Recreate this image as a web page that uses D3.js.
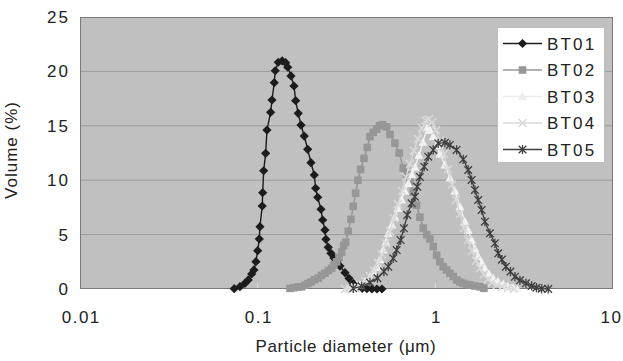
<!DOCTYPE html>
<html>
<head>
<meta charset="utf-8">
<script src="https://cdn.jsdelivr.net/npm/d3@7"></script>
<style>
  html, body { margin: 0; padding: 0; background: #fff; }
  svg { display: block; }
  text { font-family: "Liberation Sans", Arial, Helvetica, sans-serif; fill: #222; }
</style>
</head>
<body>
<svg id="chart" width="623" height="361"></svg>
<script>
// Particle size distributions (diameter in µm, volume in %)
const bt01Size = [0.0738,0.0795,0.0848,0.0885,0.0925,0.0953,0.0978,0.100,0.1021,0.1030,0.1061,0.1067,0.1081,0.1109,0.1128,0.1183,0.1204,0.1240,0.1256,0.1306,0.1375,0.1437,0.1476,0.1540,0.1601,0.1636,0.1692,0.1753,0.1829,0.1912,0.1995,0.2082,0.2120,0.2177,0.2271,0.2322,0.2392,0.2423,0.2496,0.2585,0.2688,0.2794,0.2905,0.3100,0.3265,0.3451,0.3683,0.3878,0.4122,0.4398,0.4692,0.5006];
const bt01Vol  = [0.03,0.21,0.52,0.83,1.38,1.75,2.51,3.52,4.60,5.73,7.63,8.85,10.87,12.47,14.61,16.24,17.37,18.96,20.06,20.84,20.96,20.80,20.38,19.58,18.66,17.31,16.15,15.07,14.06,12.84,11.61,10.48,9.26,8.43,7.33,6.34,5.42,4.57,3.83,3.28,2.85,2.48,2.11,1.50,0.98,0.52,0.21,0.06,0.03,0,0,0];

const bt02Size = [0.1520,0.1601,0.1686,0.1769,0.1846,0.1919,0.1995,0.2088,0.2193,0.2286,0.2392,0.2503,0.2609,0.2688,0.2783,0.2868,0.2970,0.3048,0.3128,0.3235,0.3350,0.3451,0.3560,0.3668,0.3799,0.3965,0.4138,0.4286,0.4473,0.4674,0.4847,0.5039,0.5320,0.5553,0.5925,0.6264,0.6597,0.6894,0.7196,0.7510,0.7848,0.8191,0.8549,0.8934,0.9324,0.9732,1.0170,1.0614,1.1078,1.1577,1.2083,1.2611,1.3179,1.3754,1.4355,1.5002,1.5657,1.6705,1.7823,1.8771];
const bt02Vol  = [0.06,0.12,0.18,0.21,0.35,0.5,0.65,0.85,1.0,1.25,1.45,1.7,1.9,2.2,2.5,2.9,3.4,4.0,4.3,5.3,6.4,7.6,8.8,10.0,11.0,12.0,13.0,14.0,14.4,14.7,15.0,15.1,14.9,14.2,13.4,12.5,11.1,10.5,9.9,8.9,7.7,6.6,5.6,5.0,4.6,3.9,3.1,2.5,2.05,1.75,1.44,1.15,0.83,0.65,0.52,0.42,0.37,0.28,0.2,0.06];

const bt03Size = [0.3181,0.3350,0.3528,0.3764,0.4017,0.4286,0.4514,0.4692,0.4878,0.5092,0.5273,0.5433,0.5699,0.5925,0.6160,0.6462,0.6745,0.7039,0.7385,0.7677,0.8086,0.8516,0.8970,0.9324,0.9732,1.0210,1.0614,1.1325,1.2083,1.2891,1.3754,1.4675,1.5316,1.6006,1.6705,1.7434,1.8291,1.9017,2.0028,2.1176,2.2506,2.4106,2.5619,2.7441,2.8788];
const bt03Vol  = [0,0.05,0.12,0.37,0.7,1.1,1.6,2.0,2.7,3.6,4.3,5.1,5.9,6.6,7.4,8.2,9.0,9.7,10.5,11.2,12.3,13.5,14.8,14.6,14.0,13.2,12.4,11.4,10.2,9.0,7.6,6.2,5.4,4.5,3.7,3.0,2.4,1.9,1.4,1.0,0.7,0.45,0.25,0.12,0.05];

const bt04Size = [0.3100,0.3307,0.3528,0.3764,0.4017,0.4286,0.4514,0.4754,0.5006,0.5273,0.5553,0.5848,0.6160,0.6487,0.6832,0.7196,0.7578,0.7982,0.8406,0.8854,0.9205,0.9570,1.0078,1.0614,1.1179,1.1774,1.2400,1.3059,1.3754,1.4486,1.5257,1.6068,1.6923,1.7823,1.8771,1.9770,2.0822,2.2216,2.3703,2.5619,2.7691];
const bt04Vol  = [0,0.05,0.15,0.4,0.75,1.2,1.7,2.4,3.2,4.2,5.3,6.5,7.8,9.0,10.3,11.5,12.7,13.8,14.8,15.5,15.6,15.3,14.6,13.6,12.4,11.0,9.6,8.2,6.9,5.6,4.5,3.5,2.6,1.9,1.35,0.9,0.6,0.35,0.2,0.1,0.03];

const bt05Size = [0.3451,0.3848,0.4286,0.4723,0.5138,0.5433,0.5796,0.6057,0.6379,0.6658,0.6948,0.7356,0.7677,0.7910,0.8191,0.8661,0.9121,0.9732,1.0383,1.1325,1.2083,1.3179,1.4355,1.5316,1.6006,1.6705,1.7434,1.8220,1.9017,2.0290,2.1648,2.2594,2.3703,2.4963,2.6462,2.8051,2.9929,3.2349,3.4829,3.7065,3.965,4.3190];
const bt05Vol  = [0.06,0.25,0.6,1.0,1.6,2.05,2.82,3.58,4.5,5.58,6.8,7.88,8.48,9.4,10.3,11.24,12.16,12.78,13.39,13.45,13.24,12.78,11.92,10.94,10.02,9.1,8.18,7.26,6.19,5.12,4.2,3.28,2.7,2.05,1.6,1.13,0.8,0.52,0.28,0.12,0.02,0];

const seriesNames = ["BT01", "BT02", "BT03", "BT04", "BT05"];
const xTicks = [0.01, 0.1, 1, 10];
const yTicks = [0, 5, 10, 15, 20, 25];

// Drawing styles per series
const styles = {
  BT01: { color: "#1c1c1c", marker: "diamond", width: 1.4 },
  BT02: { color: "#979797", marker: "square",  width: 1.6 },
  BT03: { color: "#f3f3f3", marker: "triangle", width: 1.4 },
  BT04: { color: "#d9d9d9", marker: "cross",    width: 1.4 },
  BT05: { color: "#3e3e3e", marker: "star",     width: 1.3 }
};

const series = [
  { name: "BT01", size: bt01Size, vol: bt01Vol },
  { name: "BT02", size: bt02Size, vol: bt02Vol },
  { name: "BT03", size: bt03Size, vol: bt03Vol },
  { name: "BT04", size: bt04Size, vol: bt04Vol },
  { name: "BT05", size: bt05Size, vol: bt05Vol }
].map(s => ({ name: s.name, points: s.size.map((d, i) => ({ d, v: s.vol[i] })) }));

const svg = d3.select("#chart");
const plot = { left: 80, right: 613, top: 17, bottom: 289 };

const x = d3.scaleLog().domain([0.01, 10]).range([plot.left, plot.right]);
const y = d3.scaleLinear().domain([0, 25]).range([plot.bottom, plot.top]);

// Plot background
svg.append("rect")
  .attr("x", plot.left).attr("y", plot.top)
  .attr("width", plot.right - plot.left).attr("height", plot.bottom - plot.top)
  .attr("fill", "#c0c0c0");

// Horizontal gridlines
svg.append("g").selectAll("line")
  .data(yTicks.filter(t => t > 0 && t < 25))
  .join("line")
  .attr("x1", plot.left).attr("x2", plot.right)
  .attr("y1", d => y(d)).attr("y2", d => y(d))
  .attr("stroke", "#9c9c9c").attr("stroke-width", 1);

// Inner tick marks on the diameter axis
svg.append("g").selectAll("line")
  .data(xTicks.slice(1, -1))
  .join("line")
  .attr("x1", d => x(d)).attr("x2", d => x(d))
  .attr("y1", plot.bottom).attr("y2", plot.bottom - 6)
  .attr("stroke", "#dcdcdc").attr("stroke-width", 1);

// Plot border
svg.append("rect")
  .attr("x", plot.left + 0.5).attr("y", plot.top + 0.5)
  .attr("width", plot.right - plot.left - 1).attr("height", plot.bottom - plot.top - 1)
  .attr("fill", "none").attr("stroke", "#7a7a7a").attr("stroke-width", 1);

// Axes
const yAxis = d3.axisLeft(y).tickValues(yTicks).tickSize(0).tickPadding(10);
svg.append("g").attr("transform", `translate(${plot.left},0)`).call(yAxis)
  .call(g => g.select(".domain").remove())
  .selectAll("text")
  .attr("font-size", 17).attr("letter-spacing", 2).attr("fill", "#222")
  .attr("font-family", "Liberation Sans, Arial, sans-serif");

const xAxis = d3.axisBottom(x).tickValues(xTicks).tickSize(0).tickPadding(22)
  .tickFormat(d => String(d));
svg.append("g").attr("transform", `translate(0,${plot.bottom})`).call(xAxis)
  .call(g => g.select(".domain").remove())
  .selectAll("text")
  .attr("font-size", 17).attr("letter-spacing", 1.5).attr("fill", "#222")
  .attr("font-family", "Liberation Sans, Arial, sans-serif")
  .attr("dx", d => d === 10 ? -2 : 0.75);

// Axis titles
svg.append("text")
  .attr("transform", `translate(17,150) rotate(-90)`)
  .attr("text-anchor", "middle")
  .attr("font-size", 17).attr("letter-spacing", 1)
  .text("Volume (%)");

svg.append("text")
  .attr("x", 346).attr("y", 352)
  .attr("text-anchor", "middle")
  .attr("font-size", 17).attr("letter-spacing", 0.6)
  .text("Particle diameter (μm)");

// Marker drawing
function drawMarker(sel, type, color) {
  if (type === "diamond") {
    sel.append("path").attr("d", "M0,-4.6L4.6,0L0,4.6L-4.6,0Z").attr("fill", color);
  } else if (type === "square") {
    sel.append("rect").attr("x", -3.8).attr("y", -3.8).attr("width", 7.6).attr("height", 7.6).attr("fill", color);
  } else if (type === "triangle") {
    sel.append("path").attr("d", "M0,-4.6L4.4,3.6L-4.4,3.6Z").attr("fill", color);
  } else if (type === "cross") {
    sel.append("path").attr("d", "M-4,-4L4,4M-4,4L4,-4")
      .attr("stroke", color).attr("stroke-width", 1.5).attr("fill", "none");
  } else if (type === "star") {
    sel.append("path").attr("d", "M-3.8,-3.8L3.8,3.8M-3.8,3.8L3.8,-3.8M0,-4.6L0,4.6")
      .attr("stroke", color).attr("stroke-width", 1.3).attr("fill", "none");
  }
}

const line = d3.line().x(p => x(p.d)).y(p => y(p.v));

// Series lines and markers
series.forEach(s => {
  const st = styles[s.name];
  const g = svg.append("g").attr("class", "series-" + s.name);
  g.append("path").datum(s.points)
    .attr("d", line).attr("fill", "none")
    .attr("stroke", st.color).attr("stroke-width", st.width);
  g.selectAll("g.pt").data(s.points).join("g")
    .attr("class", "pt")
    .attr("transform", p => `translate(${x(p.d)},${y(p.v)})`)
    .each(function () { drawMarker(d3.select(this), st.marker, st.color); });
});

// Legend
const legend = svg.append("g").attr("transform", "translate(497,27)");
legend.append("rect")
  .attr("x", 0.5).attr("y", 0.5).attr("width", 107).attr("height", 135)
  .attr("fill", "#fff").attr("stroke", "#bdbdbd").attr("stroke-width", 1);
seriesNames.forEach((name, i) => {
  const st = styles[name];
  const ly = 16.5 + i * 26.5;
  const row = legend.append("g").attr("transform", `translate(0,${ly})`);
  const lc = name === "BT03" ? "#ececec" : st.color;
  row.append("line").attr("x1", 6).attr("x2", 45).attr("y1", 0).attr("y2", 0)
    .attr("stroke", lc).attr("stroke-width", st.width);
  drawMarker(row.append("g").attr("transform", "translate(25.5,0)"), st.marker, lc);
  row.append("text").attr("x", 50).attr("y", 0).attr("dy", "0.36em")
    .attr("font-size", 17).attr("letter-spacing", 2.2)
    .text(name);
});
</script>
</body>
</html>
